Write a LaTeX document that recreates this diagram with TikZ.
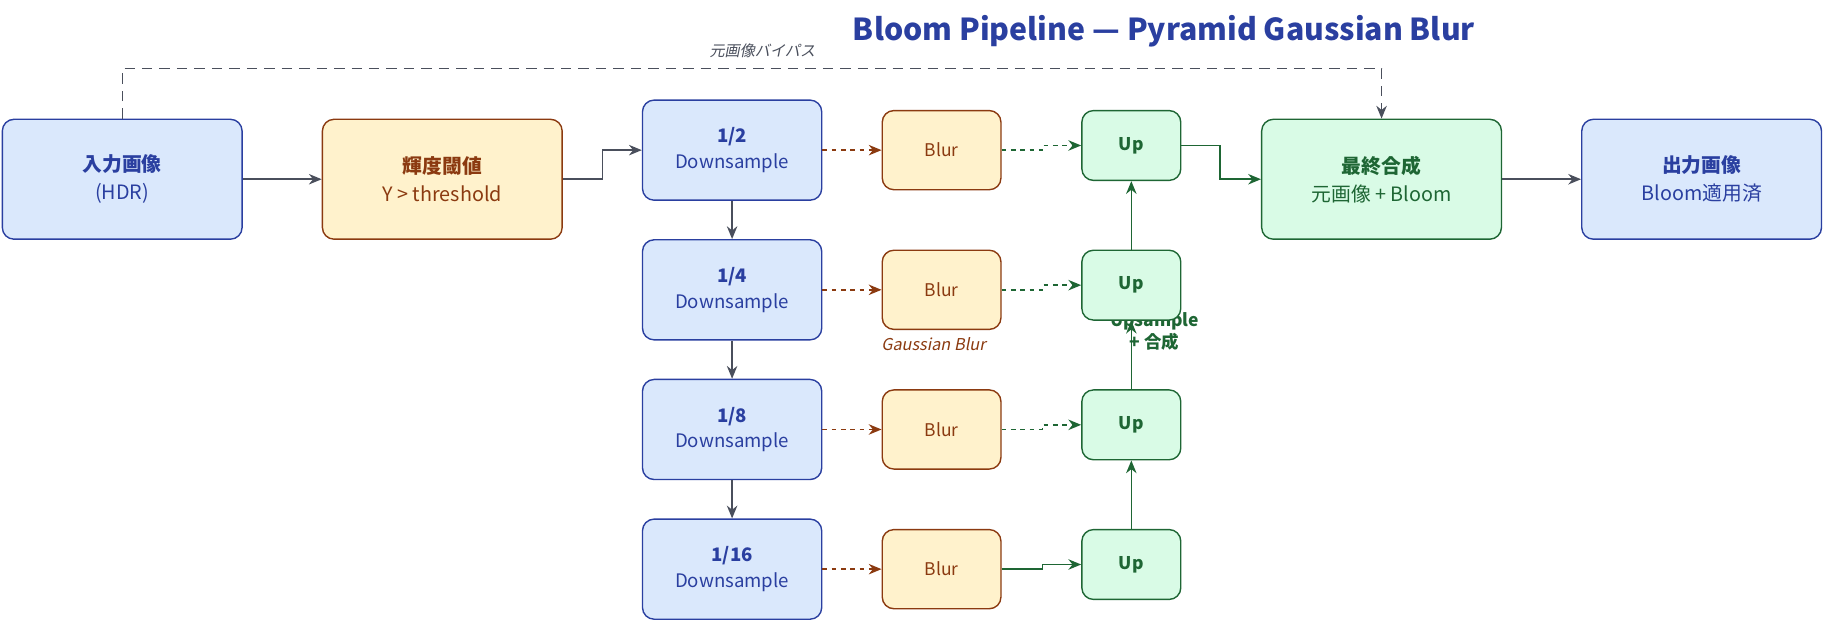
\documentclass[tikz,border=0pt]{standalone}
\usepackage{fontspec}
\setmainfont{Noto Sans CJK JP}
\newfontfamily\slfont[FakeSlant=0.2]{Noto Sans CJK JP}
\usetikzlibrary{arrows.meta}
\definecolor{bfill}{HTML}{DAE8FC}\definecolor{bline}{HTML}{2A3FA0}
\definecolor{yfill}{HTML}{FFF2CC}\definecolor{yline}{HTML}{8B3A10}
\definecolor{gfill}{HTML}{D9FBE6}\definecolor{gline}{HTML}{1E6634}
\definecolor{gray1}{HTML}{4A4F5C}
\begin{document}
\begin{tikzpicture}[x=1pt,y=-1pt,
  box/.style={draw,rounded corners=10pt,line width=1.2pt,align=center,inner sep=0pt},
  blue/.style={box,fill=bfill,draw=bline,text=bline},
  yel/.style={box,fill=yfill,draw=yline,text=yline},
  grn/.style={box,fill=gfill,draw=gline,text=gline},
  big/.style={minimum width=206pt,minimum height=103pt,font=\fontsize{17}{24}\selectfont},
  ds/.style={blue,minimum width=154pt,minimum height=86pt,font=\fontsize{16}{22}\selectfont},
  bl/.style={yel,minimum width=102pt,minimum height=68pt,font=\fontsize{15}{18}\selectfont},
  up/.style={grn,minimum width=85pt,minimum height=60pt,font=\bfseries\fontsize{15}{18}\selectfont},
  ar/.style={-{Stealth[length=11pt,width=9pt]},line width=1.3pt},
  ga/.style={ar,draw=gray1},
  ba/.style={ar,draw=yline,dashed,dash pattern=on 4pt off 4pt},
  gd/.style={ar,draw=gline,dashed,dash pattern=on 4pt off 4pt},
  gs/.style={ar,draw=gline}]
\useasboundingbox (0,0) rectangle (1568,535);
\node[text=bline,font=\bfseries\fontsize{26}{30}\selectfont] (title) at (1000,27) {Bloom Pipeline — Pyramid Gaussian Blur};
\node[text=gray1,font=\slfont\fontsize{13}{15}\selectfont] (bypl) at (655,44) {元画像バイパス};
\node[text=gline,font=\bfseries\fontsize{15}{19}\selectfont,align=center] (upl) at (992,285) {Upsample\\+ 合成};
\node[big,blue] (in) at (105,154) {\textbf{入力画像}\\(HDR)};
\node[big,yel] (th) at (380,154) {\textbf{輝度閾値}\\Y > threshold};
\node[big,grn] (fin) at (1187,154) {\textbf{最終合成}\\元画像 + Bloom};
\node[big,blue] (out) at (1462,154) {\textbf{出力画像}\\Bloom適用済};
\foreach \i/\f/\y in {1/2/129,2/4/249,3/8/369,4/16/489}{
  \node[ds] (d\i) at (629,\y) {\textbf{1/\f}\\Downsample};
  \node[bl] (b\i) at (809,\y) {Blur};
  \node[up] (u\i) at (972,\y-4) {Up};
}
\node[text=yline,font=\slfont\fontsize{14}{16}\selectfont] (gbl) at (802,296) {Gaussian Blur};
\draw[ga] (in) -- (th);
\draw[ga] (th.east) -- ++(34,0) |- (d1.west);
\draw[ga] (fin) -- (out);
\draw[gray1,line width=1.2pt,dash pattern=on 9pt off 6pt,-{Stealth[length=11pt,width=9pt]}] (in.north) -- ++(0,-43) -| (fin.north);
\foreach \i/\j in {1/2,2/3,3/4}{\draw[ga] (d\i) -- (d\j); \draw[gs] (u\j) -- (u\i);}
\foreach \i in {1,2,3,4}{\draw[ba] (d\i) -- (b\i);}
\foreach \i in {1,2,3}{\draw[gd] (b\i.east) -- ++(35,0) |- (u\i.west);}
\draw[gs] (b4.east) -- ++(35,0) |- (u4.west);
\draw[gs] (u1.east) -- ++(33,0) |- (fin.west);
\end{tikzpicture}
\end{document}
